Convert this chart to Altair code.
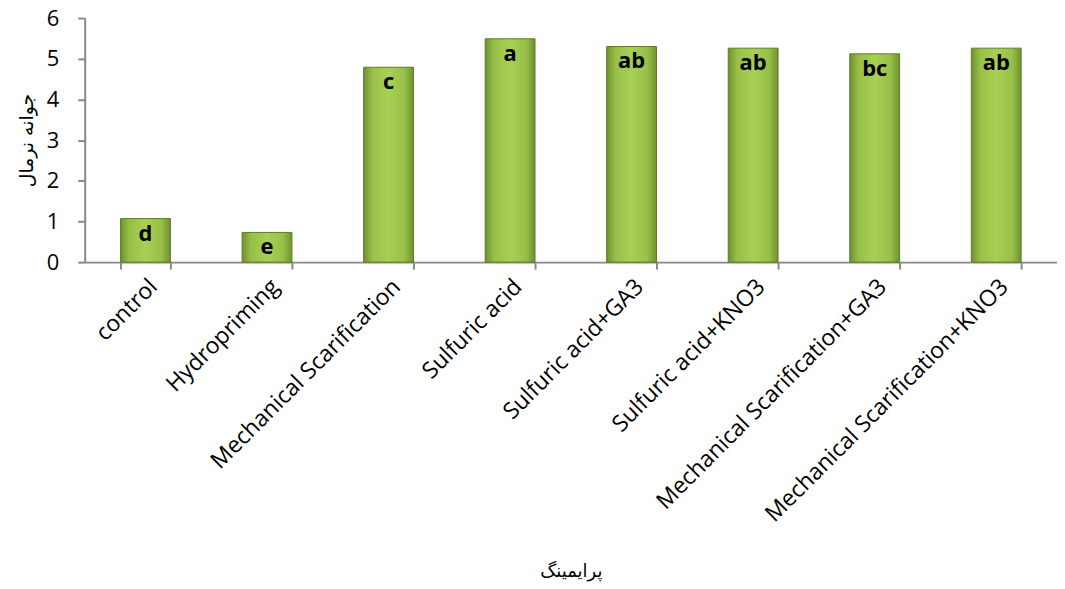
import altair as alt
import pandas as pd

categories = ["control", "Hydropriming", "Mechanical Scarification", "Sulfuric acid",
              "Sulfuric acid+GA3", "Sulfuric acid+KNO3", "Mechanical Scarification+GA3",
              "Mechanical Scarification+KNO3"]
values = [1.07, 0.73, 4.79, 5.49, 5.30, 5.26, 5.12, 5.26]
letters = ["d", "e", "c", "a", "ab", "ab", "bc", "ab"]
y_ticks = [0, 1, 2, 3, 4, 5, 6]

df = pd.DataFrame({"cat": categories, "val": values, "let": letters})

grad = alt.Gradient(
    gradient="linear",
    x1=0, x2=1, y1=0, y2=0,
    stops=[
        alt.GradientStop(color="#6f9130", offset=0),
        alt.GradientStop(color="#98c048", offset=0.18),
        alt.GradientStop(color="#a8d055", offset=0.5),
        alt.GradientStop(color="#98c048", offset=0.82),
        alt.GradientStop(color="#6f9130", offset=1),
    ],
)

x_enc = alt.X("cat:N", sort=categories, title="پرایمینگ",
              scale=alt.Scale(paddingInner=0.59, paddingOuter=0.295),
              axis=alt.Axis(labelAngle=-45, labelFontSize=23, labelFont="Open Sans",
                            labelColor="#000000", labelLimit=0, tickBand="extent", tickSize=7,
                            tickColor="#888888", tickWidth=2, domainColor="#888888",
                            domainWidth=2, labelPadding=6, titleFontSize=18,
                            titleFont="DejaVu Sans", titleFontWeight="normal",
                            titleColor="#000000", titlePadding=102))
y_enc = alt.Y("val:Q", title="جوانه نرمال",
              scale=alt.Scale(domain=[0, 6], nice=False),
              axis=alt.Axis(values=y_ticks, labelFontSize=22, labelFont="Open Sans",
                            labelColor="#000000", tickSize=7, tickColor="#888888",
                            tickWidth=2, domainColor="#888888", domainWidth=2,
                            grid=False, labelPadding=19, titleFontSize=19,
                            titleFont="DejaVu Sans", titleFontWeight="normal",
                            titleColor="#000000", titlePadding=10))

bars = alt.Chart(df).mark_bar(fill=grad, stroke="#5e7a28", strokeWidth=1).encode(
    x=x_enc, y=y_enc)

text = alt.Chart(df).mark_text(baseline="top", dy=5, fontSize=22, fontWeight="bold",
                               font="Open Sans", color="#000000").encode(
    x=alt.X("cat:N", sort=categories), y=alt.Y("val:Q"), text="let:N")

chart = alt.layer(bars, text).properties(
    width=976, height=245,
    background="#ffffff",
    autosize=alt.AutoSizeParams(type="none"),
    padding={"left": 77, "top": 9, "right": 0, "bottom": 320},
).configure_view(stroke=None)

chart.save("out.html", embed_options={"renderer": "svg", "actions": False})
